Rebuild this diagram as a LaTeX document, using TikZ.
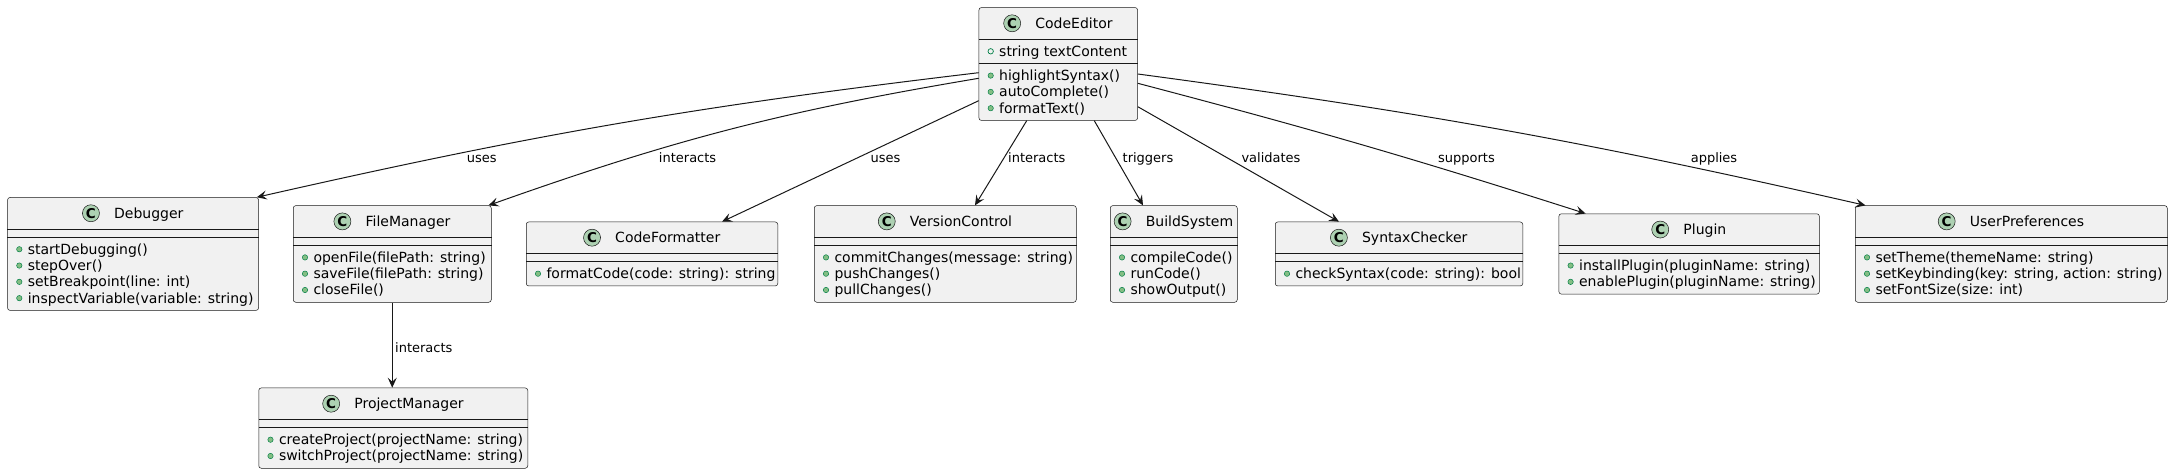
\documentclass[tikz,border=0pt]{standalone}
\usepackage{fontspec}
\setmainfont{DejaVu Sans}
\usetikzlibrary{arrows.meta,calc}
\definecolor{boxfill}{HTML}{F1F1F1}
\definecolor{boxline}{HTML}{181818}
\definecolor{cfill}{HTML}{ADD1B2}
\definecolor{bulletfill}{HTML}{84BE84}
\definecolor{bulletline}{HTML}{038048}
\tikzset{
 classbox/.style={draw=boxline, line width=0.5pt, fill=boxfill, rounded corners=2.5pt, inner sep=0pt, anchor=north west},
 sepline/.style={draw=boxline, line width=0.5pt},
 titletext/.style={font=\fontsize{14}{16.3}\selectfont, inner sep=0pt, anchor=base},
 ccircle/.style={circle, draw=boxline, line width=0.5pt, fill=cfill, minimum size=17pt, inner sep=0pt, font=\fontsize{13.5}{14}\selectfont\bfseries},
 membertext/.style={font=\fontsize{14}{16.3}\selectfont, inner sep=0pt, anchor=base west},
 methbullet/.style={circle, draw=bulletline, fill=bulletfill, line width=0.5pt, minimum size=5.4pt, inner sep=0pt},
 fieldbullet/.style={circle, draw=bulletline, fill=boxfill, line width=0.7pt, minimum size=5.4pt, inner sep=0pt},
 rel/.style={draw=boxline, line width=1pt, -{Stealth[length=10pt,width=9pt,inset=4pt]}},
 rellabel/.style={font=\fontsize{13}{15}\selectfont, inner sep=0pt, anchor=base},
}
% #1 name, #2 left, #3 top, #4 width, #5 title, #6 n attrs, #7 attrs, #8 n methods, #9 methods
\newcommand{\umlclass}[9]{%
  \pgfmathsetmacro{\clsAH}{#6*16.3+8}%
  \pgfmathsetmacro{\clsMH}{#8*16.3+7.7}%
  \pgfmathsetmacro{\clsH}{32+\clsAH+\clsMH}%
  \node[classbox, minimum width=#4pt, minimum height=\clsH pt] (#1) at (#2,#3) {};
  \draw[sepline] ($(#1.north west)+(0,32)$) -- ($(#1.north east)+(0,32)$);
  \draw[sepline] ($(#1.north west)+(0,{32+\clsAH})$) -- ($(#1.north east)+(0,{32+\clsAH})$);
  \node[titletext] (#1-t) at ($(#1.north)+(15.75,20.9)$) {#5};
  \node[ccircle] (#1-c) at ($(#1-t.base west)+(-23,-4.9)$) {C};
  \ifnum#6>0
    \foreach \atext [count=\ai] in {#7} {
      \node[fieldbullet] (#1-fb\ai) at ($(#1.north west)+(12,{32+12+(\ai-1)*16.3})$) {};
      \node[membertext] (#1-a\ai) at ($(#1.north west)+(20.3,{32+12+(\ai-1)*16.3+4.85})$) {\atext};
    }
  \fi
  \foreach \mtext [count=\mi] in {#9} {
    \node[methbullet] (#1-b\mi) at ($(#1.north west)+(12,{32+\clsAH+12+(\mi-1)*16.3})$) {};
    \node[membertext] (#1-m\mi) at ($(#1.north west)+(20.3,{32+\clsAH+12+(\mi-1)*16.3+4.85})$) {\mtext};
  }
}
\begin{document}
\begin{tikzpicture}[x=1pt, y=-1pt]
\useasboundingbox (0,0) rectangle (2172,473);

\umlclass{ce}{978.7}{7.3}{158.6}{CodeEditor}{1}{{string textContent}}{3}{{highlightSyntax()},{autoComplete()},{formatText()}}
\umlclass{dbg}{7.3}{197.25}{251}{Debugger}{0}{}{4}{{startDebugging()},{stepOver()},{setBreakpoint(line: int)},{inspectVariable(variable: string)}}
\umlclass{fm}{293}{205.4}{198}{FileManager}{0}{}{3}{{openFile(filePath: string)},{saveFile(filePath: string)},{closeFile()}}
\umlclass{cf}{526}{221.7}{251.5}{CodeFormatter}{0}{}{1}{{formatCode(code: string): string}}
\umlclass{vc}{814}{205.4}{262}{VersionControl}{0}{}{3}{{commitChanges(message: string)},{pushChanges()},{pullChanges()}}
\umlclass{bs}{1110}{205.4}{127}{BuildSystem}{0}{}{3}{{compileCode()},{runCode()},{showOutput()}}
\umlclass{sc}{1275}{221.7}{247.5}{SyntaxChecker}{0}{}{1}{{checkSyntax(code: string): bool}}
\umlclass{pl}{1558.6}{213.55}{260.5}{Plugin}{0}{}{2}{{installPlugin(pluginName: string)},{enablePlugin(pluginName: string)}}
\umlclass{up}{1855}{205.4}{312}{UserPreferences}{0}{}{3}{{setTheme(themeName: string)},{setKeybinding(key: string, action: string)},{setFontSize(size: int)}}
\umlclass{pm}{258.5}{387.7}{269}{ProjectManager}{0}{}{2}{{createProject(projectName: string)},{switchProject(projectName: string)}}

% connectors
\draw[rel] ($(ce.north west)+(0,65.4)$) to[bend right=3] ($(dbg.north east)+(-2,0)$);
\draw[rel] ($(ce.north west)+(0,71)$) to[bend right=5] ($(fm.north east)+(-3,0)$);
\draw[rel] ($(ce.north west)+(0,93.4)$) -- ($(cf.north west)+(196,0)$);
\draw[rel] ($(ce.south west)+(48,0)$) -- ($(vc.north west)+(161,0)$);
\draw[rel] ($(ce.south west)+(115.6,0)$) -- ($(bs.north west)+(33,0)$);
\draw[rel] ($(ce.north east)+(0,99.4)$) -- ($(sc.north west)+(64,0)$);
\draw[rel] ($(ce.north east)+(0,76)$) to[bend left=1.5] ($(pl.north west)+(27,0)$);
\draw[rel] ($(ce.north east)+(0,66.7)$) to[bend left=2.6] ($(up.north west)+(10.5,0)$);
\draw[rel] (fm.south) -- (fm.south |- pm.north);

% labels
\node[rellabel] (l-dbg) at (481.8,162.8) {uses};
\node[rellabel] (l-fm) at (687.6,162.8) {interacts};
\node[rellabel] (l-cf) at (885.6,162.8) {uses};
\node[rellabel] (l-vc) at (1036.8,162.8) {interacts};
\node[rellabel] (l-bs) at (1148,162.8) {triggers};
\node[rellabel] (l-sc) at (1271,162.8) {validates};
\node[rellabel] (l-pl) at (1466.5,162.8) {supports};
\node[rellabel] (l-up) at (1714,162.8) {applies};
\node[rellabel, anchor=base west] (l-pm) at (395,352.8) {interacts};
\end{tikzpicture}
\end{document}
